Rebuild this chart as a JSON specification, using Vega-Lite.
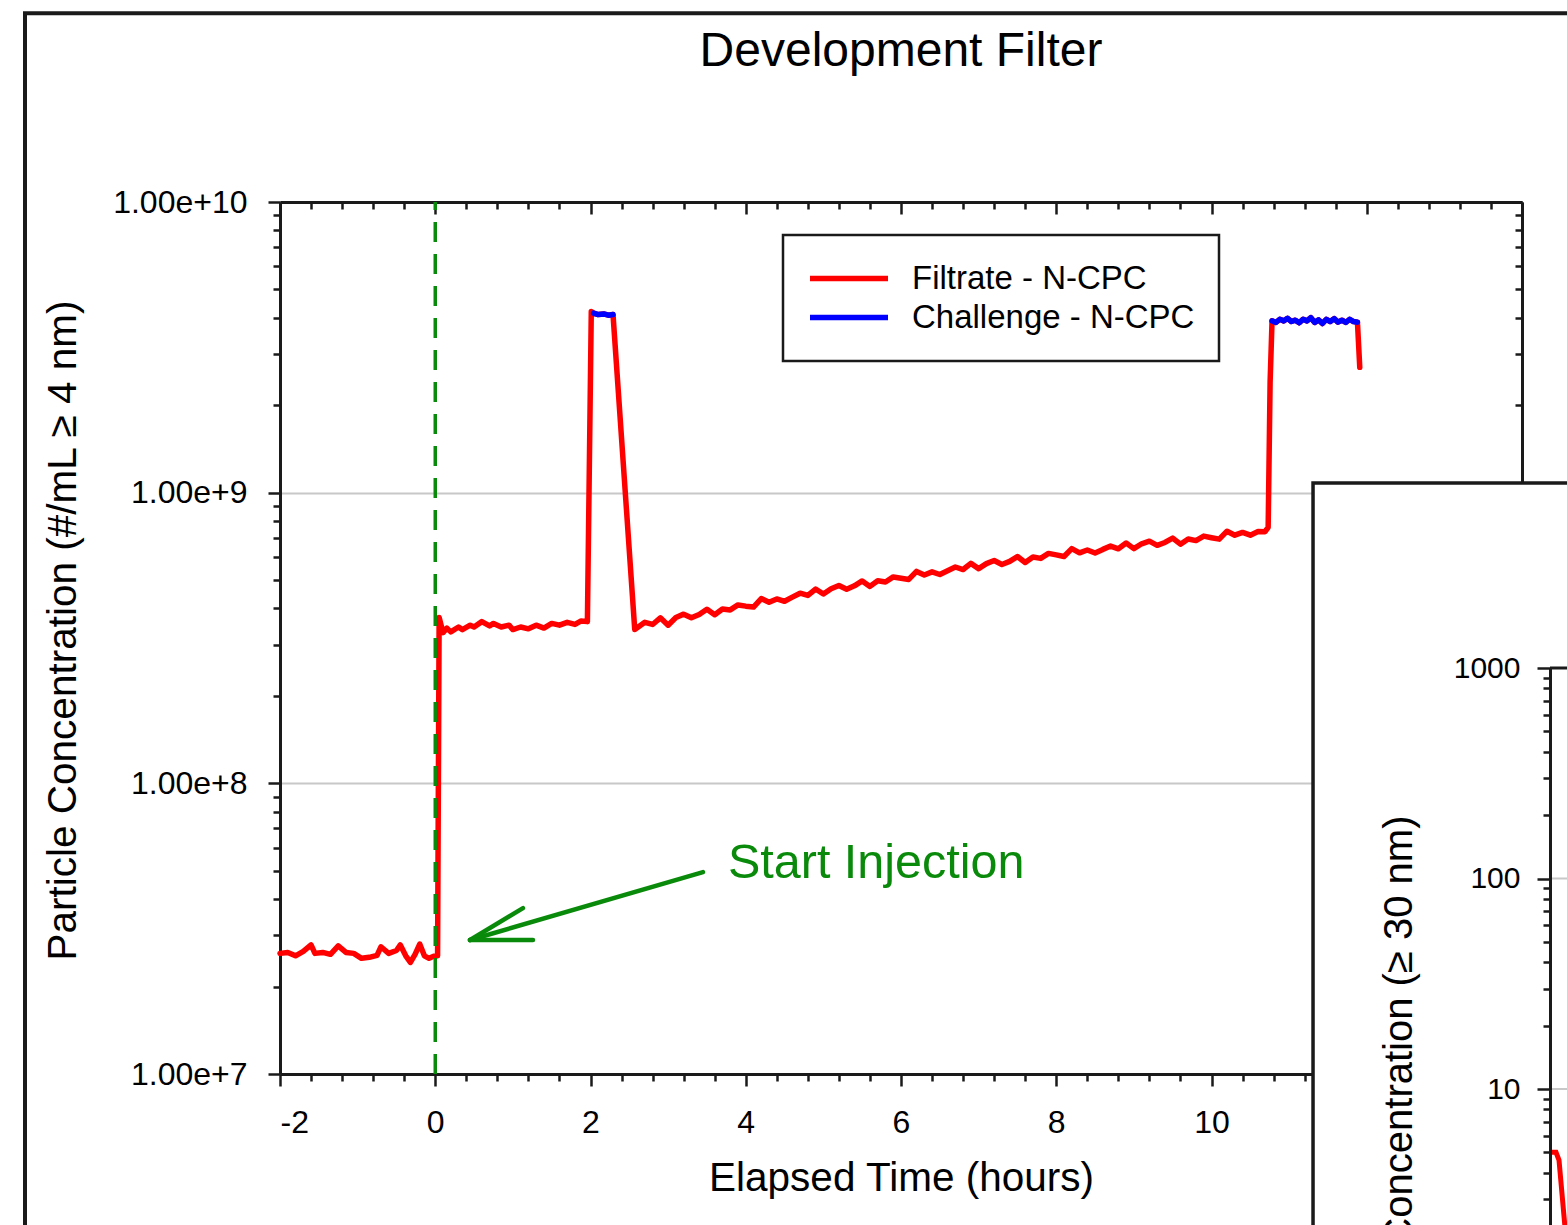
{
  "$schema": "https://vega.github.io/schema/vega-lite/v6.json",
  "width": 1242,
  "height": 872,
  "autosize": "none",
  "padding": {"left": 280, "top": 202, "right": 45, "bottom": 151},
  "background": "white",
  "config": {
    "font": "Liberation Sans",
    "view": {"stroke": null},
    "axis": {"labelColor": "#000", "titleColor": "#000", "domainColor": "#1a1a1a", "tickColor": "#1a1a1a", "domainWidth": 3, "tickWidth": 2.5, "labelFontSize": 32, "titleFontSize": 40.5, "titleFontWeight": "normal", "grid": false, "labelFont": "Liberation Sans", "titleFont": "Liberation Sans"}
  },
  "title": {"text": "Development Filter", "fontSize": 48, "fontWeight": "normal", "color": "#000", "font": "Liberation Sans", "frame": "group", "anchor": "middle", "baseline": "alphabetic", "offset": -103},
  "datasets": {
    "conc": [
      {"t": -2.0, "v": 2.6e7, "s": "F"}, {"t": -1.9, "v": 2.62e7, "s": "F"}, {"t": -1.8, "v": 2.55e7, "s": "F"}, {"t": -1.7, "v": 2.64e7, "s": "F"},
      {"t": -1.6, "v": 2.78e7, "s": "F"}, {"t": -1.55, "v": 2.6e7, "s": "F"}, {"t": -1.45, "v": 2.62e7, "s": "F"}, {"t": -1.35, "v": 2.58e7, "s": "F"},
      {"t": -1.25, "v": 2.76e7, "s": "F"}, {"t": -1.15, "v": 2.62e7, "s": "F"}, {"t": -1.05, "v": 2.6e7, "s": "F"}, {"t": -0.95, "v": 2.5e7, "s": "F"},
      {"t": -0.85, "v": 2.52e7, "s": "F"}, {"t": -0.75, "v": 2.56e7, "s": "F"}, {"t": -0.7, "v": 2.74e7, "s": "F"}, {"t": -0.6, "v": 2.6e7, "s": "F"},
      {"t": -0.5, "v": 2.66e7, "s": "F"}, {"t": -0.45, "v": 2.78e7, "s": "F"}, {"t": -0.38, "v": 2.55e7, "s": "F"}, {"t": -0.32, "v": 2.42e7, "s": "F"},
      {"t": -0.26, "v": 2.58e7, "s": "F"}, {"t": -0.2, "v": 2.8e7, "s": "F"}, {"t": -0.14, "v": 2.55e7, "s": "F"}, {"t": -0.08, "v": 2.5e7, "s": "F"},
      {"t": -0.02, "v": 2.54e7, "s": "F"}, {"t": 0.03, "v": 2.55e7, "s": "F"}, {"t": 0.05, "v": 3.72e8, "s": "F"}, {"t": 0.1, "v": 3.3e8, "s": "F"},
      {"t": 0.15, "v": 3.42e8, "s": "F"}, {"t": 0.2, "v": 3.32e8, "s": "F"}, {"t": 0.3, "v": 3.45e8, "s": "F"}, {"t": 0.35, "v": 3.38e8, "s": "F"},
      {"t": 0.45, "v": 3.5e8, "s": "F"}, {"t": 0.5, "v": 3.45e8, "s": "F"}, {"t": 0.6, "v": 3.6e8, "s": "F"}, {"t": 0.7, "v": 3.48e8, "s": "F"},
      {"t": 0.75, "v": 3.55e8, "s": "F"}, {"t": 0.85, "v": 3.45e8, "s": "F"}, {"t": 0.95, "v": 3.5e8, "s": "F"}, {"t": 1.0, "v": 3.38e8, "s": "F"},
      {"t": 1.1, "v": 3.45e8, "s": "F"}, {"t": 1.2, "v": 3.4e8, "s": "F"}, {"t": 1.3, "v": 3.5e8, "s": "F"}, {"t": 1.4, "v": 3.42e8, "s": "F"},
      {"t": 1.5, "v": 3.55e8, "s": "F"}, {"t": 1.6, "v": 3.5e8, "s": "F"}, {"t": 1.7, "v": 3.58e8, "s": "F"}, {"t": 1.8, "v": 3.52e8, "s": "F"},
      {"t": 1.88, "v": 3.62e8, "s": "F"}, {"t": 1.96, "v": 3.6e8, "s": "F"}, {"t": 2.01, "v": 4.2e9, "s": "F"},
      {"t": 2.04, "v": 4.15e9, "s": "C", "seg": 1}, {"t": 2.1, "v": 4.1e9, "s": "C", "seg": 1}, {"t": 2.17, "v": 4.12e9, "s": "C", "seg": 1}, {"t": 2.23, "v": 4.08e9, "s": "C", "seg": 1}, {"t": 2.29, "v": 4.1e9, "s": "C", "seg": 1},
      {"t": 2.57, "v": 3.38e8, "s": "F"}, {"t": 2.7, "v": 3.58e8, "s": "F"}, {"t": 2.8, "v": 3.52e8, "s": "F"}, {"t": 2.9, "v": 3.71e8, "s": "F"},
      {"t": 3.0, "v": 3.5e8, "s": "F"}, {"t": 3.1, "v": 3.72e8, "s": "F"}, {"t": 3.2, "v": 3.82e8, "s": "F"}, {"t": 3.3, "v": 3.71e8, "s": "F"},
      {"t": 3.4, "v": 3.81e8, "s": "F"}, {"t": 3.5, "v": 3.97e8, "s": "F"}, {"t": 3.6, "v": 3.8e8, "s": "F"}, {"t": 3.7, "v": 3.98e8, "s": "F"},
      {"t": 3.8, "v": 3.95e8, "s": "F"}, {"t": 3.9, "v": 4.11e8, "s": "F"}, {"t": 4.0, "v": 4.07e8, "s": "F"}, {"t": 4.1, "v": 4.04e8, "s": "F"},
      {"t": 4.2, "v": 4.32e8, "s": "F"}, {"t": 4.3, "v": 4.2e8, "s": "F"}, {"t": 4.4, "v": 4.31e8, "s": "F"}, {"t": 4.5, "v": 4.23e8, "s": "F"},
      {"t": 4.6, "v": 4.37e8, "s": "F"}, {"t": 4.7, "v": 4.51e8, "s": "F"}, {"t": 4.8, "v": 4.43e8, "s": "F"}, {"t": 4.9, "v": 4.66e8, "s": "F"},
      {"t": 5.0, "v": 4.48e8, "s": "F"}, {"t": 5.1, "v": 4.67e8, "s": "F"}, {"t": 5.2, "v": 4.79e8, "s": "F"}, {"t": 5.3, "v": 4.65e8, "s": "F"},
      {"t": 5.4, "v": 4.78e8, "s": "F"}, {"t": 5.5, "v": 4.97e8, "s": "F"}, {"t": 5.6, "v": 4.76e8, "s": "F"}, {"t": 5.7, "v": 4.98e8, "s": "F"},
      {"t": 5.8, "v": 4.93e8, "s": "F"}, {"t": 5.9, "v": 5.13e8, "s": "F"}, {"t": 6.0, "v": 5.08e8, "s": "F"}, {"t": 6.1, "v": 5.03e8, "s": "F"},
      {"t": 6.2, "v": 5.36e8, "s": "F"}, {"t": 6.3, "v": 5.21e8, "s": "F"}, {"t": 6.4, "v": 5.34e8, "s": "F"}, {"t": 6.5, "v": 5.23e8, "s": "F"},
      {"t": 6.6, "v": 5.39e8, "s": "F"}, {"t": 6.7, "v": 5.55e8, "s": "F"}, {"t": 6.8, "v": 5.44e8, "s": "F"}, {"t": 6.9, "v": 5.71e8, "s": "F"},
      {"t": 7.0, "v": 5.48e8, "s": "F"}, {"t": 7.1, "v": 5.7e8, "s": "F"}, {"t": 7.2, "v": 5.84e8, "s": "F"}, {"t": 7.3, "v": 5.66e8, "s": "F"},
      {"t": 7.4, "v": 5.8e8, "s": "F"}, {"t": 7.5, "v": 6.03e8, "s": "F"}, {"t": 7.6, "v": 5.75e8, "s": "F"}, {"t": 7.7, "v": 6.01e8, "s": "F"},
      {"t": 7.8, "v": 5.94e8, "s": "F"}, {"t": 7.9, "v": 6.18e8, "s": "F"}, {"t": 8.0, "v": 6.11e8, "s": "F"}, {"t": 8.1, "v": 6.03e8, "s": "F"},
      {"t": 8.2, "v": 6.42e8, "s": "F"}, {"t": 8.3, "v": 6.21e8, "s": "F"}, {"t": 8.4, "v": 6.35e8, "s": "F"}, {"t": 8.5, "v": 6.2e8, "s": "F"},
      {"t": 8.6, "v": 6.38e8, "s": "F"}, {"t": 8.7, "v": 6.55e8, "s": "F"}, {"t": 8.8, "v": 6.41e8, "s": "F"}, {"t": 8.9, "v": 6.71e8, "s": "F"},
      {"t": 9.0, "v": 6.42e8, "s": "F"}, {"t": 9.1, "v": 6.67e8, "s": "F"}, {"t": 9.2, "v": 6.81e8, "s": "F"}, {"t": 9.3, "v": 6.59e8, "s": "F"},
      {"t": 9.4, "v": 6.74e8, "s": "F"}, {"t": 9.5, "v": 6.98e8, "s": "F"}, {"t": 9.6, "v": 6.65e8, "s": "F"}, {"t": 9.7, "v": 6.93e8, "s": "F"},
      {"t": 9.8, "v": 6.84e8, "s": "F"}, {"t": 9.9, "v": 7.09e8, "s": "F"}, {"t": 10.0, "v": 7.0e8, "s": "F"}, {"t": 10.1, "v": 6.92e8, "s": "F"},
      {"t": 10.2, "v": 7.37e8, "s": "F"}, {"t": 10.3, "v": 7.14e8, "s": "F"}, {"t": 10.4, "v": 7.3e8, "s": "F"}, {"t": 10.5, "v": 7.14e8, "s": "F"},
      {"t": 10.6, "v": 7.35e8, "s": "F"}, {"t": 10.69, "v": 7.34e8, "s": "F"}, {"t": 10.73, "v": 7.6e8, "s": "F"}, {"t": 10.755, "v": 2.4e9, "s": "F"},
      {"t": 10.78, "v": 3.9e9, "s": "C", "seg": 2}, {"t": 10.83, "v": 3.85e9, "s": "C", "seg": 2}, {"t": 10.88, "v": 3.95e9, "s": "C", "seg": 2}, {"t": 10.93, "v": 3.9e9, "s": "C", "seg": 2},
      {"t": 10.98, "v": 3.98e9, "s": "C", "seg": 2}, {"t": 11.03, "v": 3.88e9, "s": "C", "seg": 2}, {"t": 11.08, "v": 3.92e9, "s": "C", "seg": 2}, {"t": 11.13, "v": 3.84e9, "s": "C", "seg": 2},
      {"t": 11.18, "v": 3.95e9, "s": "C", "seg": 2}, {"t": 11.23, "v": 3.9e9, "s": "C", "seg": 2}, {"t": 11.28, "v": 4.0e9, "s": "C", "seg": 2}, {"t": 11.33, "v": 3.85e9, "s": "C", "seg": 2},
      {"t": 11.38, "v": 3.93e9, "s": "C", "seg": 2}, {"t": 11.43, "v": 3.82e9, "s": "C", "seg": 2}, {"t": 11.48, "v": 3.95e9, "s": "C", "seg": 2}, {"t": 11.53, "v": 3.88e9, "s": "C", "seg": 2},
      {"t": 11.58, "v": 3.97e9, "s": "C", "seg": 2}, {"t": 11.63, "v": 3.86e9, "s": "C", "seg": 2}, {"t": 11.68, "v": 3.92e9, "s": "C", "seg": 2}, {"t": 11.73, "v": 3.85e9, "s": "C", "seg": 2},
      {"t": 11.78, "v": 3.95e9, "s": "C", "seg": 2}, {"t": 11.83, "v": 3.88e9, "s": "C", "seg": 2}, {"t": 11.88, "v": 3.86e9, "s": "C", "seg": 2},
      {"t": 11.91, "v": 2.7e9, "s": "F"}
    ],
    "arrow": [
      {"ax": 3.449, "ay": 4.95e7, "bx": 0.448, "by": 2.89e7},
      {"ax": 0.448, "ay": 2.89e7, "bx": 1.13, "by": 3.72e7},
      {"ax": 0.448, "ay": 2.89e7, "bx": 1.259, "by": 2.89e7}
    ],
    "inset": [
      {"ix": 0, "iv": 5.0}, {"ix": 0.2, "iv": 5.0}, {"ix": 0.3, "iv": 4.6}, {"ix": 0.5, "iv": 2.2}, {"ix": 0.8, "iv": 1.0}
    ]
  },
  "layer": [
    {
      "layer": [
        {
          "data": {"values": [{}]},
          "mark": {"type": "rect", "fill": "transparent", "stroke": "#1a1a1a", "strokeWidth": 4, "clip": false},
          "encoding": {
            "x": {"datum": -5.285, "type": "quantitative", "scale": {"domain": [-2, 14], "nice": false, "zero": false}, "axis": null},
            "x2": {"datum": 40},
            "y": {"datum": 4.46e10, "type": "quantitative", "scale": {"type": "log", "domain": [1e7, 1e10], "nice": false}, "axis": null},
            "y2": {"datum": 1e5}
          }
        },
        {
          "data": {"name": "conc"},
          "mark": {"type": "line", "strokeWidth": 5.5, "strokeJoin": "round", "strokeCap": "round"},
          "encoding": {
            "x": {"field": "t", "type": "quantitative", "axis": {"orient": "bottom", "values": [-2, 0, 2, 4, 6, 8, 10, 12], "tickSize": 12, "labelPadding": 21, "labelExpr": "replace(datum.label, '−', '-')", "title": "Elapsed Time (hours)", "titleY": 116, "titleBaseline": "alphabetic"}},
            "y": {"field": "v", "type": "quantitative", "axis": {"orient": "left", "values": [1e7, 1e8, 1e9, 1e10], "format": ".2e", "tickSize": 12, "labelPadding": 21, "grid": true, "gridColor": "#c8c8c8", "gridWidth": 2, "title": "Particle Concentration (#/mL ≥ 4 nm)", "titleX": -205, "titleY": 428, "titleBaseline": "alphabetic", "titleAngle": -90, "titleAlign": "center"}},
            "color": {
              "datum": "Filtrate - N-CPC",
              "scale": {"domain": ["Filtrate - N-CPC", "Challenge - N-CPC"], "range": ["#ff0000", "#0000ff"]},
              "legend": {"orient": "none", "legendX": 503, "legendY": 33, "title": null, "strokeColor": "#1a1a1a", "fillColor": "white", "padding": 24, "symbolType": "stroke", "symbolSize": 6084, "symbolStrokeWidth": 5.5, "clipHeight": 39, "labelFontSize": 33, "labelOffset": 21, "labelLimit": 500, "labelColor": "#000", "labelFont": "Liberation Sans", "rowPadding": 0,
                "encode": {"legend": {"update": {"strokeWidth": {"value": 2.5}}}}}
            }
          }
        },
        {
          "data": {"name": "conc"},
          "transform": [{"filter": "datum.s === 'C'"}],
          "mark": {"type": "line", "strokeWidth": 5.5, "strokeJoin": "round", "strokeCap": "round"},
          "encoding": {
            "x": {"field": "t", "type": "quantitative", "axis": null},
            "y": {"field": "v", "type": "quantitative", "axis": null},
            "color": {"datum": "Challenge - N-CPC"},
            "detail": {"field": "seg", "type": "nominal"}
          }
        },
        {
          "data": {"values": [{"t": 0, "v": 1e8}]},
          "mark": {"type": "point", "opacity": 0},
          "encoding": {
            "x": {"field": "t", "type": "quantitative", "axis": {"orient": "top", "values": [-2, 0, 2, 4, 6, 8, 10, 12, 14], "labels": false, "tickSize": -12, "title": null}},
            "y": {"field": "v", "type": "quantitative", "axis": {"orient": "right", "values": [1e7, 1e8, 1e9, 1e10], "labels": false, "tickSize": -12, "title": null}}
          }
        },
        {
          "data": {"values": [{"t": 0, "v": 1e8}]},
          "mark": {"type": "point", "opacity": 0},
          "encoding": {
            "x": {"field": "t", "type": "quantitative", "axis": {"orient": "bottom", "values": [-1.6, -1.2, -0.8, -0.4, 0.4, 0.8, 1.2, 1.6, 2.4, 2.8, 3.2, 3.6, 4.4, 4.8, 5.2, 5.6, 6.4, 6.8, 7.2, 7.6, 8.4, 8.8, 9.2, 9.6, 10.4, 10.8, 11.2, 11.6, 12.4, 12.8, 13.2, 13.6], "labels": false, "domain": false, "tickSize": 7, "title": null}},
            "y": {"field": "v", "type": "quantitative", "axis": {"orient": "left", "values": [2e7, 3e7, 4e7, 5e7, 6e7, 7e7, 8e7, 9e7, 2e8, 3e8, 4e8, 5e8, 6e8, 7e8, 8e8, 9e8, 2e9, 3e9, 4e9, 5e9, 6e9, 7e9, 8e9, 9e9], "labels": false, "domain": false, "tickSize": 7, "title": null}}
          }
        },
        {
          "data": {"values": [{"t": 0, "v": 1e8}]},
          "mark": {"type": "point", "opacity": 0},
          "encoding": {
            "x": {"field": "t", "type": "quantitative", "axis": {"orient": "top", "values": [-1.6, -1.2, -0.8, -0.4, 0.4, 0.8, 1.2, 1.6, 2.4, 2.8, 3.2, 3.6, 4.4, 4.8, 5.2, 5.6, 6.4, 6.8, 7.2, 7.6, 8.4, 8.8, 9.2, 9.6, 10.4, 10.8, 11.2, 11.6, 12.4, 12.8, 13.2, 13.6], "labels": false, "domain": false, "tickSize": -7, "title": null}},
            "y": {"field": "v", "type": "quantitative", "axis": {"orient": "right", "values": [2e7, 3e7, 4e7, 5e7, 6e7, 7e7, 8e7, 9e7, 2e8, 3e8, 4e8, 5e8, 6e8, 7e8, 8e8, 9e8, 2e9, 3e9, 4e9, 5e9, 6e9, 7e9, 8e9, 9e9], "labels": false, "domain": false, "tickSize": -7, "title": null}}
          }
        },
        {
          "data": {"values": [{}]},
          "mark": {"type": "rule", "color": "#0a8a0a", "strokeWidth": 3.5, "strokeDash": [20, 12]},
          "encoding": {
            "x": {"datum": 0, "type": "quantitative", "axis": null},
            "y": {"datum": 1e7, "type": "quantitative", "axis": null},
            "y2": {"datum": 1e10}
          }
        },
        {
          "data": {"name": "arrow"},
          "mark": {"type": "rule", "color": "#0a8a0a", "strokeWidth": 4.5, "strokeCap": "round"},
          "encoding": {
            "x": {"field": "ax", "type": "quantitative", "axis": null},
            "y": {"field": "ay", "type": "quantitative", "axis": null},
            "x2": {"field": "bx"},
            "y2": {"field": "by"}
          }
        },
        {
          "data": {"values": [{"label": "Start Injection"}]},
          "mark": {"type": "text", "align": "left", "baseline": "alphabetic", "fontSize": 48.5, "color": "#0a8a0a", "font": "Liberation Sans"},
          "encoding": {
            "x": {"datum": 3.771, "type": "quantitative", "axis": null},
            "y": {"datum": 4.72e7, "type": "quantitative", "axis": null},
            "text": {"field": "label"}
          }
        },
        {
          "data": {"values": [{}]},
          "mark": {"type": "rect", "fill": "white", "stroke": "#1a1a1a", "strokeWidth": 3.5, "clip": false},
          "encoding": {
            "x": {"datum": 11.308, "type": "quantitative", "axis": null},
            "x2": {"datum": 40},
            "y": {"datum": 1.08e9, "type": "quantitative", "axis": null},
            "y2": {"datum": 1e5}
          }
        }
      ],
      "resolve": {"axis": {"x": "independent", "y": "independent"}}
    },
    {
      "layer": [
        {
          "data": {"values": [{"g": 100}, {"g": 10}]},
          "mark": {"type": "rule", "color": "#c8c8c8", "strokeWidth": 2, "clip": false},
          "encoding": {
            "y": {"field": "g", "type": "quantitative", "scale": {"type": "log", "domain": [1, 1000], "range": [1097.5, 466], "nice": false},
              "axis": {"orient": "left", "offset": -1270, "zindex": 1, "values": [10, 100, 1000], "format": "d", "tickSize": 13, "labelPadding": 17, "labelFontSize": 30, "domain": true, "grid": false, "title": "Particle Concentration (≥ 30 nm)", "titleX": -139, "titleY": 613, "titleAlign": "right", "titleAngle": -90, "titleBaseline": "alphabetic", "titleFontSize": 40}},
            "x": {"datum": 0, "type": "quantitative", "scale": {"domain": [0, 10], "range": [1270, 1570], "nice": false, "zero": false}, "axis": null},
            "x2": {"datum": 10}
          }
        },
        {
          "data": {"values": [{"g": 1000}]},
          "mark": {"type": "rule", "color": "#1a1a1a", "strokeWidth": 3, "clip": false},
          "encoding": {
            "y": {"field": "g", "type": "quantitative", "axis": null},
            "x": {"datum": 0, "type": "quantitative", "axis": null},
            "x2": {"datum": 10}
          }
        },
        {
          "data": {"name": "inset"},
          "mark": {"type": "line", "color": "#ff0000", "strokeWidth": 5, "clip": false},
          "encoding": {
            "x": {"field": "ix", "type": "quantitative", "axis": null},
            "y": {"field": "iv", "type": "quantitative", "axis": {"orient": "left", "offset": -1270, "zindex": 1, "values": [2, 3, 4, 5, 6, 7, 8, 9, 20, 30, 40, 50, 60, 70, 80, 90, 200, 300, 400, 500, 600, 700, 800, 900], "labels": false, "domain": false, "tickSize": 7, "title": null}}
          }
        }
      ],
      "resolve": {"axis": {"y": "independent"}}
    }
  ],
  "resolve": {"scale": {"x": "independent", "y": "independent"}, "axis": {"x": "independent", "y": "independent"}}
}
